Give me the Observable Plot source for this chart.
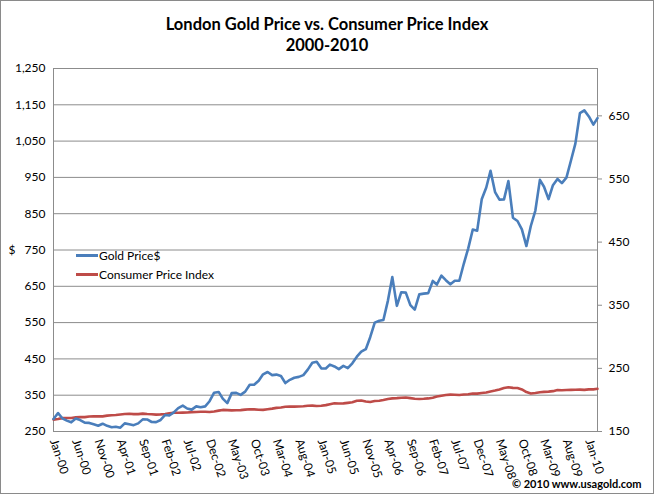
<!DOCTYPE html>
<html>
<head>
<meta charset="utf-8">
<script src="https://cdn.jsdelivr.net/npm/d3@7"></script>
<script src="https://cdn.jsdelivr.net/npm/@observablehq/plot@0.6"></script>
<style>
  html, body { margin: 0; padding: 0; background: #fff; }
  #wrap { position: relative; width: 654px; height: 494px; overflow: hidden; background: #fff; font-family: Lato, "Open Sans", sans-serif; }
  #border { position: absolute; left: 0; top: 0; width: 654px; height: 494px; box-sizing: border-box; border: 1px solid #8a8a8a; pointer-events: none; }
  #title { height: 60px; box-sizing: border-box; padding-top: 14px; text-align: center; font-weight: bold; font-size: 16.5px; line-height: 21px; color: #000; }
  #legend { position: absolute; left: 76px; top: 246px; font-size: 12px; color: #000; }
  .item { display: flex; align-items: center; height: 19px; }
  .swatch { width: 22px; height: 2.5px; margin-right: 1px; }
  #credit { position: absolute; left: 512px; top: 477px; font-size: 11px; font-weight: bold; color: #000; }
  svg { display: block; }
</style>
</head>
<body>
<div id="wrap">
  <div id="title">London Gold Price vs. Consumer Price Index<br>2000-2010</div>
  <div id="chart"></div>
  <div id="legend"></div>
  <div id="credit">© 2010 www.usagold.com</div>
  <div id="border"></div>
</div>
<script>
// Monthly series starting Jan 2000, ending Mar 2010
const startMonth = "2000-01";
const goldPrice = [
  284.6, 300.9, 286.4, 280.0, 275.3, 285.7, 281.6, 274.5, 273.7, 270.0, 266.0, 271.5,
  265.5, 261.9, 263.0, 260.5, 272.4, 270.2, 267.5, 272.4, 283.4, 283.1, 276.2, 275.9,
  281.7, 295.5, 294.0, 302.7, 314.5, 321.2, 313.3, 310.3, 319.2, 316.6, 319.2, 333.4,
  356.9, 359.0, 340.6, 328.2, 355.7, 356.4, 351.0, 359.8, 378.9, 378.9, 389.9, 407.6,
  414.0, 405.3, 406.7, 403.0, 383.5, 392.4, 398.1, 400.5, 405.3, 420.5, 439.4, 442.1,
  424.0, 423.4, 434.2, 429.2, 421.9, 430.7, 424.5, 437.9, 456.0, 469.9, 476.7, 509.8,
  549.9, 555.0, 557.1, 610.6, 675.4, 596.2, 633.7, 632.6, 598.2, 585.8, 627.8, 629.8,
  631.2, 664.8, 654.9, 679.4, 666.9, 655.5, 665.3, 665.4, 712.7, 754.6, 806.3, 803.2,
  889.6, 922.3, 968.4, 909.7, 888.7, 889.5, 939.8, 839.0, 829.9, 806.6, 760.9, 816.1,
  858.7, 943.2, 924.3, 890.2, 928.6, 945.7, 934.2, 949.4, 996.6, 1043.2, 1127.0, 1134.7,
  1118.0, 1095.4, 1113.3
];
const consumerPriceIndex = [
  168.8, 169.8, 171.2, 171.3, 171.5, 172.4, 172.8, 172.8, 173.7, 174.0, 174.1, 174.0,
  175.1, 175.8, 176.2, 176.9, 177.7, 178.0, 177.5, 177.5, 178.3, 177.7, 177.4, 176.7,
  177.1, 177.8, 178.8, 179.8, 179.8, 179.9, 180.1, 180.7, 181.0, 181.3, 181.3, 180.9,
  181.7, 183.1, 184.2, 183.8, 183.5, 183.7, 183.9, 184.6, 185.2, 185.0, 184.5, 184.3,
  185.2, 186.2, 187.4, 188.0, 189.1, 189.7, 189.4, 189.5, 189.9, 190.9, 191.0, 190.3,
  190.7, 191.8, 193.3, 194.6, 194.4, 194.5, 195.4, 196.4, 198.8, 199.2, 197.6, 196.8,
  198.3, 198.7, 199.8, 201.5, 202.5, 202.9, 203.5, 203.9, 202.9, 201.8, 201.5, 201.8,
  202.4, 203.5, 205.4, 206.7, 207.9, 208.4, 208.3, 207.9, 208.5, 208.9, 210.2, 210.0,
  211.1, 211.7, 213.5, 214.8, 216.6, 218.8, 220.0, 219.1, 218.8, 216.6, 212.4, 210.2,
  211.1, 212.2, 212.7, 213.2, 213.9, 215.7, 215.4, 215.8, 216.0, 216.2, 216.3, 215.9,
  216.7, 216.7, 217.6
];
const xTickLabels = ["Jan-00","Jun-00","Nov-00","Apr-01","Sep-01","Feb-02","Jul-02","Dec-02",
  "May-03","Oct-03","Mar-04","Aug-04","Jan-05","Jun-05","Nov-05","Apr-06","Sep-06","Feb-07",
  "Jul-07","Dec-07","May-08","Oct-08","Mar-09","Aug-09","Jan-10"];
const leftTicks = [250, 350, 450, 550, 650, 750, 850, 950, 1050, 1150, 1250];
const rightTicks = [150, 250, 350, 450, 550, 650];
const seriesNames = ["Gold Price$", "Consumer Price Index"];
const seriesColors = ["#4a7ebb", "#be4b48"];

// left axis 250..1250 is shared with right axis 150..725
const leftDomain = [250, 1250];
const rightDomain = [150, 725];
const toLeft = v => leftDomain[0] + (v - rightDomain[0]) * (leftDomain[1] - leftDomain[0]) / (rightDomain[1] - rightDomain[0]);
const fromLeft = v => rightDomain[0] + (v - leftDomain[0]) * (rightDomain[1] - rightDomain[0]) / (leftDomain[1] - leftDomain[0]);

const start = d3.utcParse("%Y-%m")(startMonth);
const parseTick = d3.utcParse("%b-%y");
const ticks = xTickLabels.map(label => ({date: parseTick(label), label}));
const goldRows = goldPrice.map((v, i) => ({date: d3.utcMonth.offset(start, i), value: v}));
const cpiRows = consumerPriceIndex.map((v, i) => ({date: d3.utcMonth.offset(start, i), value: toLeft(v)}));

const gridColor = "#8c8c8c";
const chart = Plot.plot({
  width: 654,
  height: 434,
  marginTop: 8,
  marginBottom: 63,
  marginLeft: 53,
  marginRight: 57,
  style: {fontFamily: "Lato, 'Open Sans', sans-serif", fontSize: "12px", color: "#000", background: "#fff"},
  x: {type: "utc", domain: [goldRows[0].date, goldRows[goldRows.length - 1].date], axis: null},
  y: {domain: leftDomain, axis: null},
  marks: [
    Plot.gridY(leftTicks, {stroke: gridColor, strokeOpacity: 1, strokeWidth: 1}),
    Plot.frame({stroke: gridColor, strokeWidth: 1}),
    Plot.axisY(leftTicks, {anchor: "left", tickFormat: d3.format(","), tickSize: 0, tickPadding: 8, fontSize: 12, label: null}),
    Plot.axisY(rightTicks.map(toLeft), {anchor: "right", tickFormat: v => String(Math.round(fromLeft(v))), tickSize: 4, tickPadding: 7, stroke: gridColor, fontSize: 12, label: null}),
    Plot.text(ticks, {x: "date", text: "label", frameAnchor: "bottom", dy: 8, rotate: 72, textAnchor: "start", lineAnchor: "middle", fontSize: 12, fill: "#000"}),
    Plot.text(["$"], {frameAnchor: "left", dx: -45, fontSize: 12}),
    Plot.lineY(cpiRows, {x: "date", y: "value", stroke: seriesColors[1], strokeWidth: 2.6}),
    Plot.lineY(goldRows, {x: "date", y: "value", stroke: seriesColors[0], strokeWidth: 2.6})
  ]
});
document.getElementById("chart").appendChild(chart);

const legend = d3.select("#legend");
seriesNames.forEach((name, i) => {
  const item = legend.append("div").attr("class", "item");
  item.append("div").attr("class", "swatch").style("background", seriesColors[i]);
  item.append("span").text(name);
});
</script>
</body>
</html>
